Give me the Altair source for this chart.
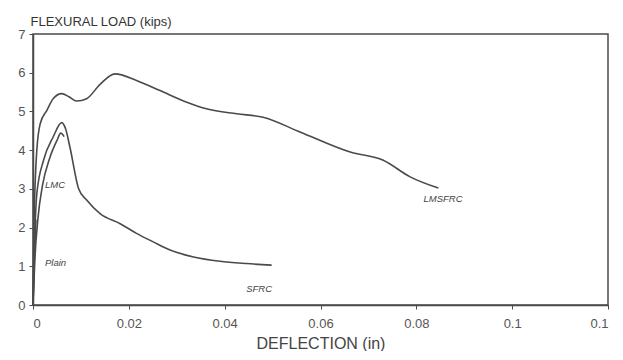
import altair as alt
import pandas as pd

# Series (deflection in, load kips)
lmsfrc_x = [0, 0.0002, 0.0008, 0.0015, 0.0029, 0.0042, 0.006, 0.0075, 0.0091, 0.0112, 0.014, 0.0171,
            0.0216, 0.0265, 0.0321, 0.0362, 0.0425, 0.048, 0.0557, 0.0662, 0.0731, 0.0787, 0.0846]
lmsfrc_y = [0, 2.0, 4.0, 4.68, 5.03, 5.33, 5.46, 5.38, 5.27, 5.33, 5.7, 5.97,
            5.80, 5.54, 5.24, 5.07, 4.94, 4.85, 4.47, 3.95, 3.74, 3.31, 3.02]

sfrc_x = [0, 0.0003, 0.0008, 0.0022, 0.0042, 0.006, 0.0068, 0.0077, 0.0095, 0.0112, 0.014, 0.0182,
          0.0216, 0.0251, 0.0286, 0.0335, 0.039, 0.0446, 0.0498]
sfrc_y = [0, 1.5, 2.88, 3.74, 4.34, 4.71, 4.55, 4.08, 3.01, 2.71, 2.36, 2.1,
          1.85, 1.63, 1.42, 1.24, 1.13, 1.07, 1.03]

lmc_x = [0, 0.0004, 0.001, 0.002, 0.0035, 0.005, 0.0058, 0.0065]
lmc_y = [0, 1.2, 2.2, 3.1, 3.8, 4.25, 4.44, 4.35]

plain_x = [0, 0.0002, 0.0004, 0.0006]
plain_y = [0, 0.9, 1.6, 2.2]

label_text = ["LMC", "Plain", "SFRC", "LMSFRC"]
label_x = [0.0025, 0.0025, 0.0445, 0.0815]
label_y = [3.09, 1.08, 0.41, 2.73]

x_ticks = [0, 0.02, 0.04, 0.06, 0.08, 0.1, 0.12]
y_ticks = [0, 1, 2, 3, 4, 5, 6, 7]

rows = []
for name, xs, ys in [("LMSFRC", lmsfrc_x, lmsfrc_y), ("SFRC", sfrc_x, sfrc_y),
                     ("LMC", lmc_x, lmc_y), ("Plain", plain_x, plain_y)]:
    for i, (a, b) in enumerate(zip(xs, ys)):
        rows.append({"series": name, "i": i, "x": a, "y": b})
df = pd.DataFrame(rows)
labels = pd.DataFrame({"t": label_text, "x": label_x, "y": label_y})

FONT = "Liberation Sans"
GRAY = "#4a4a4a"

xscale = alt.Scale(domain=[0, 0.12], nice=False, zero=False)
yscale = alt.Scale(domain=[0, 7], nice=False)

xaxis = alt.Axis(values=x_ticks, format="~g", title="DEFLECTION (in)", grid=False,
                 labelFontSize=13, labelColor="#555", labelFont=FONT, labelPadding=8,
                 labelOverlap=False, labelFlush=True,
                 tickSize=4, tickColor=GRAY, domainColor=GRAY, domainWidth=1.5,
                 titleFont=FONT, titleFontSize=16, titleFontWeight="normal",
                 titleColor="#444", titleBaseline="alphabetic", titleY=43)
yaxis = alt.Axis(values=y_ticks, tickCount=8, title="FLEXURAL LOAD (kips)", grid=False,
                 labelFontSize=13, labelColor="#555", labelFont=FONT, labelPadding=4,
                 labelOverlap=False, labelFlush=False,
                 tickSize=4, tickColor=GRAY, domainColor=GRAY, domainWidth=1.5,
                 titleFont=FONT, titleFontSize=13, titleFontWeight="normal",
                 titleColor="#333", titleAngle=0, titleAlign="left",
                 titleBaseline="alphabetic", titleX=-3, titleY=-9)

lines = alt.Chart(df).mark_line(color=GRAY, strokeWidth=1.6, interpolate="monotone").encode(
    x=alt.X("x:Q", scale=xscale, axis=xaxis),
    y=alt.Y("y:Q", scale=yscale, axis=yaxis),
    detail="series:N",
    order="i:Q",
)

texts = alt.Chart(labels).mark_text(font=FONT, fontSize=9.5, fontStyle="italic", color="#444",
                                    align="left", baseline="middle").encode(
    x=alt.X("x:Q", scale=xscale, axis=None),
    y=alt.Y("y:Q", scale=yscale, axis=None),
    text="t:N",
)

chart = (lines + texts).resolve_axis(x="independent", y="independent").properties(
    width=575, height=271,
    autosize=alt.AutoSizeParams(type="none"),
    padding={"left": 25, "top": 26, "right": 7, "bottom": 46},
).configure_view(stroke=GRAY, strokeWidth=1.5)

chart.save("out.html", embed_options={"renderer": "svg", "actions": False})
